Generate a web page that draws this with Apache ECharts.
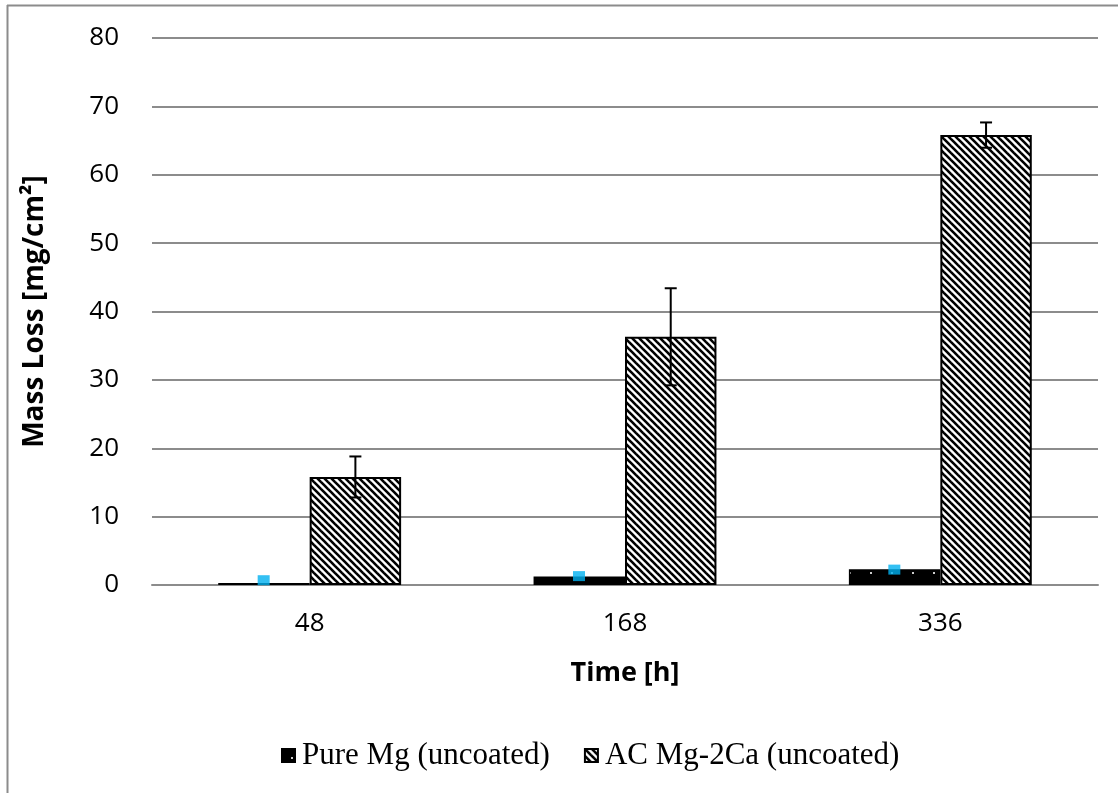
<!DOCTYPE html>
<html>
<head>
<meta charset="utf-8">
<script src="https://cdn.jsdelivr.net/npm/echarts@6.0.0/dist/echarts.min.js"></script>
<style>
  html, body { margin: 0; padding: 0; background: #fff; }
  #main { width: 1118px; height: 793px; }
</style>
</head>
<body>
<div id="main"></div>
<script>
// data
var timeLabels = ['48', '168', '336'];
var pureMg = [0.3, 1.25, 2.3];
var pureMgMarker = [0.7, 1.3, 2.25];
var acMg2Ca = [15.8, 36.3, 65.8];
var acMg2CaErr = [3.0, 7.1, 1.85];
var yTicks = [0, 10, 20, 30, 40, 50, 60, 70, 80];

// fill patterns
function hatchPattern() {
    var c = document.createElement('canvas');
    c.width = 7; c.height = 7;
    var ctx = c.getContext('2d');
    ctx.fillStyle = '#fff';
    ctx.fillRect(0, 0, 7, 7);
    ctx.strokeStyle = '#000';
    ctx.lineWidth = 2.6;
    for (var k = -1; k <= 1; k++) {
        ctx.beginPath();
        ctx.moveTo(k * 7 - 1, -1);
        ctx.lineTo(k * 7 + 8, 8);
        ctx.stroke();
    }
    return c;
}
function dotPattern() {
    var c = document.createElement('canvas');
    c.width = 21; c.height = 12;
    var ctx = c.getContext('2d');
    ctx.fillStyle = '#000';
    ctx.fillRect(0, 0, 21, 12);
    ctx.fillStyle = '#ccc';
    ctx.fillRect(9, 8, 2, 2);
    return c;
}

var myChart = echarts.init(document.getElementById('main'));

var option = {
    backgroundColor: '#fff',
    animation: false,
    graphic: [
        {type: 'line', shape: {x1: 7, y1: 5.5, x2: 1118, y2: 5.5}, style: {stroke: '#8c8c8c', lineWidth: 2}},
        {type: 'line', shape: {x1: 7.5, y1: 5, x2: 7.5, y2: 793}, style: {stroke: '#8c8c8c', lineWidth: 2}}
    ],
    grid: {
        left: 152,
        right: 20,
        top: 38,
        bottom: 208
    },
    legend: {
        data: ['Pure Mg (uncoated)', 'AC Mg-2Ca (uncoated)'],
        left: 276,
        top: 735,
        icon: 'rect',
        itemWidth: 13,
        itemHeight: 13,
        itemGap: 34,
        textStyle: {
            fontFamily: 'Liberation Serif',
            fontSize: 31,
            color: '#000',
            padding: [0, 0, 0, 2]
        }
    },
    xAxis: {
        type: 'category',
        data: timeLabels,
        name: 'Time [h]',
        nameLocation: 'middle',
        nameGap: 75,
        nameTextStyle: {fontFamily: 'Open Sans', fontWeight: 'bold', fontSize: 27, color: '#000'},
        axisLine: {lineStyle: {color: '#8c8c8c', width: 2}},
        axisTick: {show: false},
        axisLabel: {fontFamily: 'Open Sans', fontSize: 26, color: '#000', margin: 26}
    },
    yAxis: {
        type: 'value',
        min: 0,
        max: 80,
        interval: 10,
        name: 'Mass Loss [mg/cm²]',
        nameLocation: 'middle',
        nameGap: 103,
        nameTextStyle: {fontFamily: 'Open Sans', fontWeight: 'bold', fontSize: 28, color: '#000'},
        axisLine: {show: false},
        axisTick: {show: false},
        axisLabel: {
            fontFamily: 'Open Sans', fontSize: 26, color: '#000', margin: 33,
            formatter: function (v) { return yTicks.indexOf(v) >= 0 ? String(v) : ''; }
        },
        splitLine: {lineStyle: {color: '#8c8c8c', width: 2}}
    },
    series: [
        {
            name: 'Pure Mg (uncoated)',
            type: 'bar',
            data: pureMg,
            barWidth: '29%',
            barGap: '0%',
            itemStyle: {
                color: {image: dotPattern(), repeat: 'repeat'},
                borderColor: '#000',
                borderWidth: 1.5
            }
        },
        {
            name: 'AC Mg-2Ca (uncoated)',
            type: 'bar',
            data: acMg2Ca,
            barWidth: '29%',
            barGap: '0%',
            itemStyle: {
                color: {image: hatchPattern(), repeat: 'repeat'},
                borderColor: '#000',
                borderWidth: 2
            }
        },
        {
            name: 'marker',
            type: 'scatter',
            data: pureMgMarker,
            symbol: 'rect',
            symbolSize: [12, 10],
            symbolOffset: [-46, 0],
            itemStyle: {color: '#00B0F0'},
            z: 5
        },
        {
            name: 'error',
            type: 'custom',
            data: acMg2Ca.map(function (v, i) { return [i, v, acMg2CaErr[i]]; }),
            encode: {x: 0, y: 1},
            z: 6,
            renderItem: function (params, api) {
                var i = api.value(0), v = api.value(1), e = api.value(2);
                var top = api.coord([i, v + e]);
                var bot = api.coord([i, v - e]);
                var band = api.size([1, 0])[0];
                var cx = top[0] + band * 0.29 / 2;
                var cap = 6;
                var st = {stroke: '#000', lineWidth: 2};
                return {
                    type: 'group',
                    children: [
                        {type: 'line', shape: {x1: cx, y1: top[1], x2: cx, y2: bot[1]}, style: st},
                        {type: 'line', shape: {x1: cx - cap, y1: top[1], x2: cx + cap, y2: top[1]}, style: st},
                        {type: 'line', shape: {x1: cx - cap, y1: bot[1], x2: cx + cap, y2: bot[1]}, style: st}
                    ]
                };
            }
        }
    ]
};

myChart.setOption(option);
</script>
</body>
</html>
